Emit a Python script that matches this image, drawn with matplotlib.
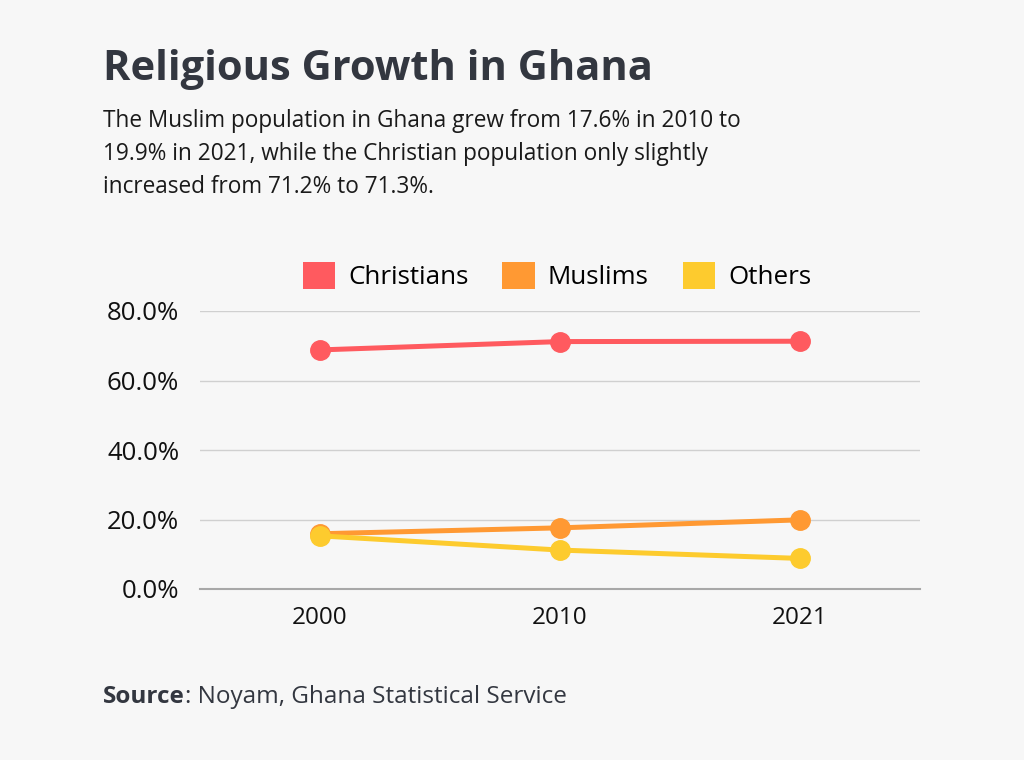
import matplotlib
matplotlib.use("Agg")
import matplotlib.pyplot as plt
from matplotlib.patches import Patch
from matplotlib.ticker import FuncFormatter

plt.rcParams['font.family'] = ['Open Sans', 'DejaVu Sans']

years = ["2000", "2010", "2021"]
christians = [68.8, 71.2, 71.3]
muslims = [15.9, 17.6, 19.9]
others = [15.3, 11.2, 8.8]
series_names = ["Christians", "Muslims", "Others"]
colors = ["#FF5A5F", "#FF9933", "#FDCB2E"]

title = "Religious Growth in Ghana"
subtitle_lines = [
    "The Muslim population in Ghana grew from 17.6% in 2010 to",
    "19.9% in 2021, while the Christian population only slightly",
    "increased from 71.2% to 71.3%.",
]

bg = "#F7F7F7"
fig = plt.figure(figsize=(10.24, 7.6), dpi=100, facecolor=bg)
ax = fig.add_axes([200/1024, 1-589/760, 720/1024, 278/760])
ax.set_facecolor(bg)

x = list(range(len(years)))
for vals, c in zip([christians, muslims, others], colors):
    ax.plot(x, vals, color=c, lw=3.6, marker='o', markersize=14, clip_on=False, solid_capstyle='round', zorder=3)

ax.set_xlim(-0.5, 2.5)
ax.set_ylim(0, 80)
ax.set_yticks([0, 20, 40, 60, 80])
ax.yaxis.set_major_formatter(FuncFormatter(lambda v, p: f"{v:.1f}%"))
ax.set_xticks(x)
ax.set_xticklabels(years)
ax.grid(axis='y', color='#D0D0D0', lw=1)
ax.set_axisbelow(True)
for s in ['left', 'right', 'top']:
    ax.spines[s].set_visible(False)
ax.spines['bottom'].set_color('#A8A8A8')
ax.spines['bottom'].set_linewidth(1.5)
ax.tick_params(axis='both', length=0, colors='#111111')
ax.tick_params(axis='y', pad=15, labelsize=18.5)
ax.tick_params(axis='x', pad=12, labelsize=17.5)

handles = [Patch(facecolor=c, edgecolor='none') for c in colors]
fig.legend(handles, series_names, loc='center', bbox_to_anchor=(557/1024, 1-276/760),
           ncol=3, frameon=False, fontsize=18.7, handlelength=1.25, handleheight=1.25,
           handletextpad=0.5, columnspacing=1.3)

fig.text(103/1024, 1-70/760, title, fontsize=30, fontweight='bold', color='#333740', va='center', ha='left')
for i, line in enumerate(subtitle_lines):
    fig.text(103/1024, 1-(121+33*i)/760, line, fontsize=16.3, color='#1a1a1a', va='center', ha='left')

src = fig.text(103/1024, 1-697/760, "Source", fontsize=17.5, fontweight='bold', color='#333740', va='center', ha='left')
fig.canvas.draw()
bb = src.get_window_extent()
fig.text(bb.x1/1024, 1-697/760, ": Noyam, Ghana Statistical Service", fontsize=17.5, color='#333740', va='center', ha='left')

fig.savefig("out.png", dpi=100, facecolor=bg)
